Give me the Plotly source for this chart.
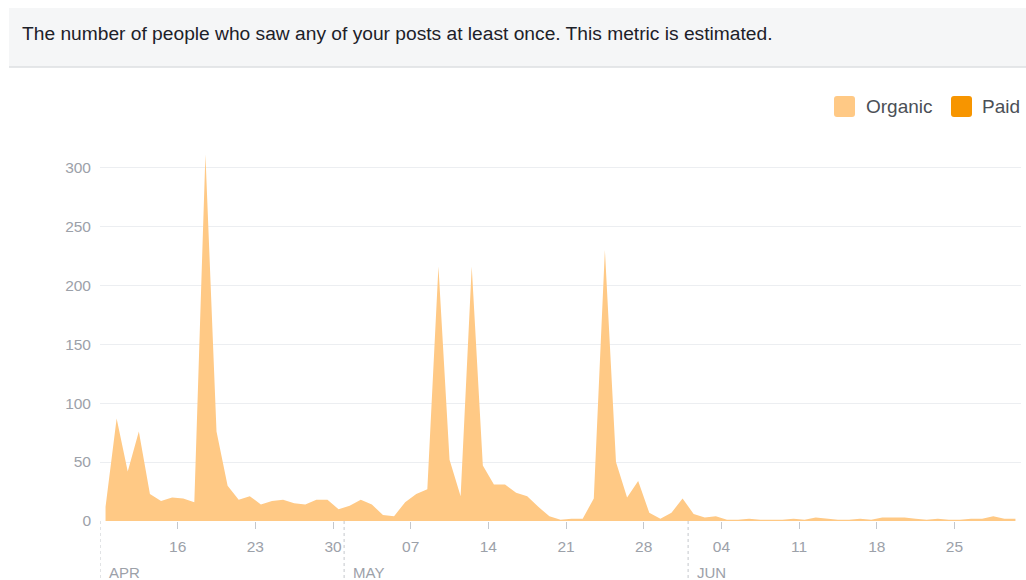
import pandas as pd
import plotly.graph_objects as go

# ---------------- data ----------------
start_date = "2019-04-09"
organic_apr = [12, 87, 42, 76, 23, 17, 20, 19, 16, 311, 76, 30, 18, 21, 14, 17, 18, 15, 14, 18, 18, 10]
organic_may = [13, 18, 14, 5, 4, 16, 23, 27, 216, 52, 21, 216, 47, 31, 31, 24, 21, 12, 4, 1, 2, 2,
               19, 230, 50, 20, 34, 7, 2, 7, 19]
organic_jun = [6, 3, 4, 1, 1, 2, 1, 1, 1, 2, 1, 3, 2, 1, 1, 2, 1, 3, 3, 3, 2, 1, 2, 1, 1, 2, 2, 4, 2, 2]
organic = organic_apr + organic_may + organic_jun
paid = [0] * len(organic)

tick_dates = ["2019-04-16", "2019-04-23", "2019-04-30", "2019-05-07", "2019-05-14", "2019-05-21",
              "2019-05-28", "2019-06-04", "2019-06-11", "2019-06-18", "2019-06-25"]
tick_labels = ["16", "23", "30", "07", "14", "21", "28", "04", "11", "18", "25"]
month_dates = ["2019-04-09", "2019-05-01", "2019-06-01"]
month_labels = ["APR", "MAY", "JUN"]
y_ticks = [0, 50, 100, 150, 200, 250, 300]
series_names = ["Organic", "Paid"]
series_colors = ["#ffc985", "#f79500"]

header_text = "The number of people who saw any of your posts at least once. This metric is estimated."

# ---------------- layout geometry ----------------
W, H = 1026, 580
ML, MR, MT, MB = 100, 5, 132, 59
PW, PH = W - ML - MR, H - MT - MB


def px(xp):
    """screen x pixel -> paper coordinate"""
    return (xp - ML) / PW


def py(yp):
    """screen y pixel -> paper coordinate"""
    return (H - MB - yp) / PH


dates = pd.date_range(start_date + " 12:00", periods=len(organic), freq="D")

fig = go.Figure()
fig.add_trace(go.Scatter(x=dates, y=organic, name=series_names[0], stackgroup="one",
                         mode="lines", line=dict(width=0, color=series_colors[0]),
                         fillcolor=series_colors[0], hoverinfo="x+y"))
fig.add_trace(go.Scatter(x=dates, y=paid, name=series_names[1], stackgroup="one",
                         mode="lines", line=dict(width=0, color=series_colors[1]),
                         fillcolor=series_colors[1], hoverinfo="x+y"))

shapes = []
annotations = []
FONT = "Liberation Sans, Arial"

# header band
shapes.append(dict(type="rect", xref="paper", yref="paper", x0=px(9), x1=px(1030),
                   y0=py(67), y1=py(8), fillcolor="#f5f6f7", line=dict(width=0), layer="below"))
shapes.append(dict(type="line", xref="paper", yref="paper", x0=px(9), x1=px(1030),
                   y0=py(67), y1=py(67), line=dict(color="#dddfe2", width=1.5)))
annotations.append(dict(xref="paper", yref="paper", x=px(20), y=py(34), text=header_text,
                        showarrow=False, xanchor="left", yanchor="middle",
                        font=dict(family=FONT, size=19.2, color="#1d2129")))


# custom legend
def rounded_square(x0, y0, s, r):
    x1, y1 = x0 + s, y0 + s
    return (f"M {px(x0 + r)} {py(y0)} L {px(x1 - r)} {py(y0)} Q {px(x1)} {py(y0)} {px(x1)} {py(y0 + r)} "
            f"L {px(x1)} {py(y1 - r)} Q {px(x1)} {py(y1)} {px(x1 - r)} {py(y1)} "
            f"L {px(x0 + r)} {py(y1)} Q {px(x0)} {py(y1)} {px(x0)} {py(y1 - r)} "
            f"L {px(x0)} {py(y0 + r)} Q {px(x0)} {py(y0)} {px(x0 + r)} {py(y0)} Z")


legend_swatch_x = [834, 951]
legend_text_x = [864, 980]
for i, name in enumerate(series_names):
    shapes.append(dict(type="path", xref="paper", yref="paper",
                       path=rounded_square(legend_swatch_x[i], 96, 21, 3),
                       fillcolor=series_colors[i], line=dict(width=0)))
    annotations.append(dict(xref="paper", yref="paper", x=px(legend_text_x[i]), y=py(106),
                            text=name, showarrow=False, xanchor="left", yanchor="middle",
                            font=dict(family=FONT, size=19, color="#4b4f56")))

# month separators + labels
for d, lab in zip(month_dates, month_labels):
    shapes.append(dict(type="line", xref="x", yref="paper", x0=d, x1=d, y0=0, y1=py(582),
                       line=dict(color="#c4c7cc", width=1, dash="dot")))
    annotations.append(dict(xref="x", yref="paper", x=d, y=py(572), text=lab, showarrow=False,
                            xanchor="left", yanchor="middle", xshift=7,
                            font=dict(family=FONT, size=15, color="#9ca1a9")))

fig.update_layout(
    width=W, height=H,
    margin=dict(l=ML, r=MR, t=MT, b=MB),
    paper_bgcolor="white", plot_bgcolor="white",
    showlegend=False,
    shapes=shapes, annotations=annotations,
    font=dict(family=FONT, color="#9ca1a9"),
    xaxis=dict(type="date", range=[start_date, "2019-07-01"], tickvals=tick_dates, ticktext=tick_labels,
               ticks="outside", ticklen=7, tickcolor="#c4c7cc", tickwidth=1,
               tickfont=dict(size=15.5, color="#9ca1a9"), showgrid=False, zeroline=False,
               showline=False, ticklabelstandoff=4, fixedrange=True),
    yaxis=dict(range=[0, 330], tickvals=y_ticks, showgrid=True, gridcolor="#eceef1", gridwidth=1,
               zeroline=False, showline=False, tickfont=dict(size=15.5, color="#9ca1a9"),
               ticklabelstandoff=8, fixedrange=True),
)

fig.write_html("out.html", config={"displayModeBar": False},
               post_script="document.body.style.margin='0';document.body.style.overflow='hidden';")
